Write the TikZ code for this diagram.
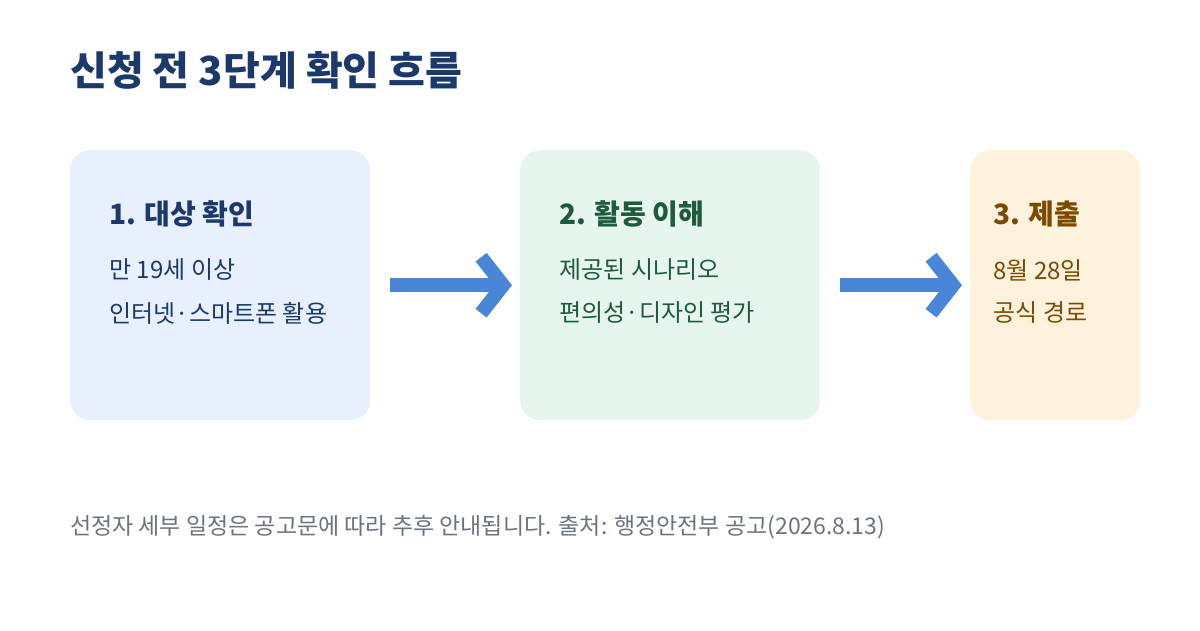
\documentclass[tikz,border=0pt]{standalone}
\usepackage{fontspec}
\setmainfont{Noto Sans CJK KR}
\usetikzlibrary{arrows.meta, positioning}
\definecolor{colorTitle}{HTML}{1B3A6B}
\definecolor{colorBoxA}{HTML}{E8F0FE}
\definecolor{colorBoxB}{HTML}{E6F6EF}
\definecolor{colorBoxC}{HTML}{FFF2DC}
\definecolor{colorTextA}{HTML}{1B3A6B}
\definecolor{colorTextB}{HTML}{1E5A3C}
\definecolor{colorTextC}{HTML}{7A4A00}
\definecolor{colorArrow}{HTML}{4A86D8}
\definecolor{colorNote}{HTML}{6B7280}
\tikzset{
  stepbox/.style={rounded corners=20pt, minimum height=270pt, anchor=north west, inner sep=0pt},
  stephead/.style={anchor=west, font=\fontsize{28}{32}\selectfont\bfseries},
  stepline/.style={anchor=west, font=\fontsize{24}{28}\selectfont},
  flow/.style={colorArrow, line width=14pt, -{Straight Barb[length=22pt, width=56pt, line width=14pt]}}
}
\begin{document}
\begin{tikzpicture}[x=1pt, y=-1pt]
\useasboundingbox (0,0) rectangle (1200,630);
\node[anchor=west, inner sep=0pt, colorTitle, font=\fontsize{40}{44}\selectfont\bfseries] (title) at (70,70) {신청 전 3단계 확인 흐름};
% steps
\node[stepbox, fill=colorBoxA, minimum width=300pt] (s1) at (70,150) {};
\node[stepbox, fill=colorBoxB, minimum width=300pt] (s2) at (520,150) {};
\node[stepbox, fill=colorBoxC, minimum width=170pt] (s3) at (970,150) {};
\node[stephead, colorTextA] (h1) at (106,214) {1. 대상 확인};
\node[stepline, colorTextA] (a1) at (106,270) {만 19세 이상};
\node[stepline, colorTextA] (a2) at (106,313) {인터넷·스마트폰 활용};
\node[stephead, colorTextB] (h2) at (556,214) {2. 활동 이해};
\node[stepline, colorTextB] (b1) at (556,270) {제공된 시나리오};
\node[stepline, colorTextB] (b2) at (556,313) {편의성·디자인 평가};
\node[stephead, colorTextC] (h3) at (990,214) {3. 제출};
\node[stepline, colorTextC] (c1) at (990,270) {8월 28일};
\node[stepline, colorTextC] (c2) at (990,313) {공식 경로};
% arrows
\draw[flow] ([xshift=20pt]s1.east) -- ([xshift=-8pt]s2.west);
\draw[flow] ([xshift=20pt]s2.east) -- ([xshift=-8pt]s3.west);
\node[anchor=west, inner sep=0pt, colorNote, font=\fontsize{23}{27}\selectfont] (note) at (70,527) {선정자 세부 일정은 공고문에 따라 추후 안내됩니다. 출처: 행정안전부 공고(2026.8.13)};
\end{tikzpicture}
\end{document}
